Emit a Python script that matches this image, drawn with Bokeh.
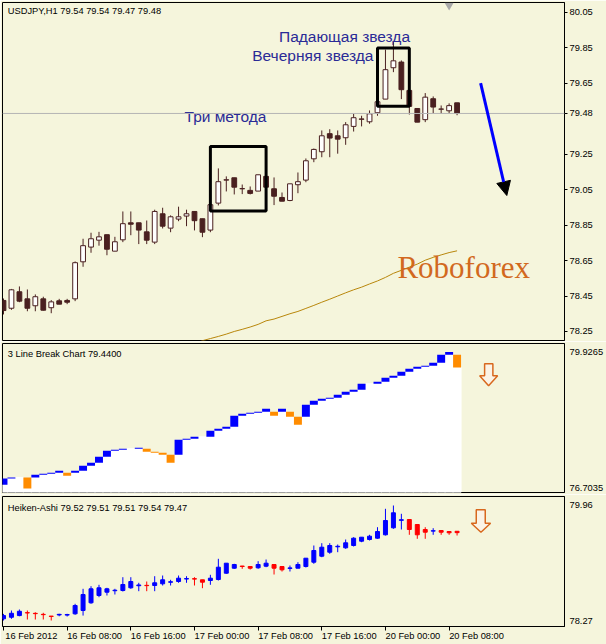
from bokeh.plotting import figure
from bokeh.layouts import column
from bokeh.models import (Range1d, FixedTicker, PrintfTickFormatter, Span,
                          Arrow, NormalHead, LinearAxis)
from bokeh.embed import file_html
from bokeh.resources import INLINE
from bokeh.core.properties import value

BG = "#F5F5DC"
FONT = "Liberation Sans"
CANDLE = "#4A2020"

# ---------------- data: USDJPY H1 candles ----------------
bars = list(range(58))
o = [78.425, 78.381, 78.474, 78.434, 78.395, 78.434, 78.384, 78.423, 78.425, 78.434,
     78.643, 78.726, 78.765, 78.796, 78.703, 78.767, 78.863, 78.863, 78.812, 78.754,
     78.914, 78.833, 78.884, 78.901, 78.927, 78.886, 78.822, 78.974, 79.104, 79.117,
     79.055, 79.046, 79.042, 79.125, 79.055, 79.006, 78.989, 79.078, 79.104, 79.224,
     79.264, 79.366, 79.354, 79.343, 79.407, 79.447, 79.433, 79.484, 79.561, 79.738,
     79.770, 79.610, 79.508, 79.445, 79.563, 79.504, 79.495, 79.54]
h = [78.436, 78.490, 78.504, 78.487, 78.459, 78.446, 78.427, 78.434, 78.434, 78.645,
     78.773, 78.807, 78.812, 78.796, 78.784, 78.927, 78.927, 78.863, 78.876, 78.937,
     78.948, 78.905, 78.954, 78.937, 78.927, 78.886, 78.965, 79.170, 79.125, 79.117,
     79.079, 79.068, 79.134, 79.125, 79.119, 79.034, 79.083, 79.147, 79.226, 79.282,
     79.384, 79.391, 79.384, 79.431, 79.478, 79.467, 79.497, 79.546, 79.840, 79.882,
     79.779, 79.610, 79.508, 79.595, 79.576, 79.525, 79.537, 79.54]
l = [78.346, 78.372, 78.415, 78.364, 78.364, 78.368, 78.353, 78.404, 78.404, 78.421,
     78.615, 78.694, 78.734, 78.680, 78.703, 78.754, 78.793, 78.743, 78.743, 78.743,
     78.831, 78.810, 78.872, 78.844, 78.820, 78.782, 78.810, 78.961, 79.040, 79.023,
     79.025, 79.023, 79.042, 79.064, 78.963, 78.985, 78.985, 79.030, 79.092, 79.205,
     79.233, 79.233, 79.253, 79.303, 79.378, 79.407, 79.422, 79.467, 79.561, 79.713,
     79.561, 79.474, 79.431, 79.431, 79.482, 79.478, 79.482, 79.47]
c = [78.368, 78.485, 78.421, 78.381, 78.446, 78.370, 78.417, 78.404, 78.415, 78.638,
     78.734, 78.773, 78.784, 78.714, 78.756, 78.858, 78.855, 78.822, 78.765, 78.927,
     78.844, 78.897, 78.897, 78.914, 78.875, 78.810, 78.965, 79.095, 79.106, 79.064,
     79.056, 79.029, 79.134, 79.064, 79.013, 78.985, 79.083, 79.095, 79.213, 79.277,
     79.354, 79.341, 79.335, 79.416, 79.456, 79.449, 79.478, 79.546, 79.727, 79.777,
     79.614, 79.520, 79.431, 79.572, 79.516, 79.505, 79.524, 79.48]

# moving average (visible part, bars 24..57)
ma_bars = list(range(24, 58))
ma = [78.180, 78.198, 78.210, 78.222, 78.235, 78.250, 78.262, 78.275, 78.290, 78.310,
      78.320, 78.335, 78.350, 78.363, 78.380, 78.397, 78.415, 78.432, 78.450, 78.468,
      78.485, 78.500, 78.518, 78.535, 78.555, 78.578, 78.595, 78.613, 78.630, 78.652,
      78.668, 78.682, 78.695, 78.705]

price_ticks = [78.25, 78.45, 78.65, 78.85, 79.05, 79.25, 79.48, 79.65, 79.85, 80.05]
last_price = 79.48

# ---------------- data: 3 Line Break ----------------
nan = float("nan")
lb_top = [77.007, 77.029, nan, 77.029, 77.086, 77.108, 77.130, 77.173, 77.130, 77.173,
          77.281, 77.346, 77.476, 77.606, 77.627, 77.649, nan, 77.670, 77.649, 77.584,
          77.562, 77.519, 77.843, 77.865, 77.908, nan, 78.038, 78.081, 78.125, 78.363,
          78.406, 78.428, 78.449, 78.514, 78.449, 78.514, 78.449, 78.341, 78.601, 78.687,
          78.730, 78.752, 78.817, 78.882, 78.925, 79.055, nan, 79.098, 79.185, 79.228,
          79.314, 79.379, 79.423, 79.444, 79.509, 79.682, 79.740, 79.682]
lb_bot = [76.870, 77.007, nan, 76.791, 77.029, 77.086, 77.108, 77.130, 77.065, 77.130,
          77.173, 77.281, 77.346, 77.476, 77.606, 77.627, nan, 77.649, 77.584, 77.562,
          77.519, 77.346, 77.519, 77.843, 77.865, nan, 77.908, 78.038, 78.081, 78.125,
          78.363, 78.406, 78.428, 78.449, 78.363, 78.449, 78.341, 78.168, 78.341, 78.601,
          78.687, 78.730, 78.752, 78.817, 78.882, 78.925, nan, 79.055, 79.098, 79.185,
          79.228, 79.314, 79.379, 79.423, 79.444, 79.509, 79.682, 79.408]
lb_up = [1, 1, 0, 0, 1, 1, 1, 1, 0, 1, 1, 1, 1, 1, 1, 1, 0, 1, 0, 0,
         0, 0, 1, 1, 1, 0, 1, 1, 1, 1, 1, 1, 1, 1, 0, 1, 0, 0, 1, 1,
         1, 1, 1, 1, 1, 1, 0, 1, 1, 1, 1, 1, 1, 1, 1, 1, 1, 0]
lb_min, lb_max = 76.7035, 79.9265

# ---------------- data: Heiken-Ashi ----------------
ha_o = [78.370, 78.390, 78.412, 78.450, 78.441, 78.428, 78.405, 78.420, 78.418, 78.435,
        78.478, 78.578, 78.673, 78.716, 78.735, 78.738, 78.773, 78.800, 78.805, 78.803,
        78.825, 78.845, 78.855, 78.887, 78.892, 78.877, 78.868, 78.881, 78.963, 79.028,
        79.056, 79.050, 79.033, 79.054, 79.076, 79.050, 79.025, 79.028, 79.050, 79.106,
        79.184, 79.236, 79.306, 79.293, 79.323, 79.379, 79.401, 79.418, 79.462, 79.553,
        79.650, 79.661, 79.596, 79.531, 79.510, 79.518, 79.505, 79.508]
ha_h = [78.434, 78.478, 78.491, 78.478, 78.455, 78.448, 78.405, 78.435, 78.435, 78.565,
        78.760, 78.794, 78.812, 78.773, 78.760, 78.911, 78.911, 78.838, 78.855, 78.924,
        78.933, 78.877, 78.933, 78.924, 78.911, 78.877, 78.942, 79.150, 79.093, 79.085,
        79.058, 79.050, 79.119, 79.141, 79.076, 79.050, 79.063, 79.106, 79.158, 79.323,
        79.353, 79.353, 79.336, 79.401, 79.431, 79.431, 79.462, 79.561, 79.800, 79.843,
        79.735, 79.661, 79.596, 79.561, 79.548, 79.518, 79.505, 79.508]
ha_l = [78.348, 78.370, 78.403, 78.361, 78.361, 78.361, 78.348, 78.403, 78.400, 78.422,
        78.412, 78.565, 78.651, 78.673, 78.686, 78.725, 78.760, 78.729, 78.729, 78.729,
        78.803, 78.803, 78.838, 78.838, 78.803, 78.768, 78.812, 78.868, 78.955, 79.020,
        79.020, 79.011, 79.020, 79.041, 78.946, 78.985, 78.985, 79.028, 79.037, 79.085,
        79.171, 79.215, 79.236, 79.280, 79.310, 79.366, 79.388, 79.410, 79.453, 79.540,
        79.531, 79.462, 79.410, 79.410, 79.462, 79.462, 79.462, 79.453]
ha_c = [78.412, 78.442, 78.468, 78.446, 78.437, 78.424, 78.401, 78.428, 78.426, 78.543,
        78.686, 78.760, 78.773, 78.760, 78.742, 78.816, 78.855, 78.810, 78.801, 78.838,
        78.877, 78.852, 78.898, 78.893, 78.886, 78.846, 78.898, 79.041, 79.093, 79.076,
        79.050, 79.028, 79.076, 79.093, 79.028, 79.007, 79.032, 79.076, 79.158, 79.258,
        79.301, 79.323, 79.313, 79.358, 79.418, 79.431, 79.444, 79.505, 79.648, 79.748,
        79.658, 79.531, 79.462, 79.496, 79.515, 79.496, 79.488, 79.490]
ha_min, ha_max = 78.27, 79.96

time_ticks = [0, 8, 16, 24, 32, 40, 48, 56]
time_labels = ["16 Feb 2012", "16 Feb 08:00", "16 Feb 16:00", "17 Feb 00:00",
               "17 Feb 08:00", "17 Feb 16:00", "20 Feb 00:00", "20 Feb 08:00"]

# ---------------- figures ----------------
xr = Range1d(-0.125, 70.5)


def panel(height, y0, y1, top, bottom, xaxis):
    p = figure(width=606, height=height, x_range=xr, y_range=Range1d(y0, y1),
               output_backend="svg", toolbar_location=None,
               x_axis_location="below" if xaxis else None, y_axis_location="right",
               min_border_left=2, min_border_right=39, min_border_top=top,
               min_border_bottom=bottom, background_fill_color=BG, border_fill_color=BG,
               outline_line_color="black", outline_line_width=1)
    p.grid.visible = False
    ax = p.yaxis[0]
    ax.axis_line_color = "black"
    ax.major_tick_out = 3
    ax.major_tick_in = 0
    ax.minor_tick_line_color = None
    ax.major_label_standoff = 2
    ax.major_label_text_font = FONT
    ax.major_label_text_font_size = "9.3px"
    ax.major_label_text_color = "black"
    return p


# --- main price panel ---
p1 = panel(341, 78.199, 80.106, 2, 1, False)
p1.yaxis.ticker = FixedTicker(ticks=price_ticks)
p1.yaxis.formatter = PrintfTickFormatter(format="%.2f")

p1.add_layout(Span(location=last_price, dimension="width", line_color="#B4B4B4", line_width=1))
p1.line(ma_bars, ma, line_color="#B8860B", line_width=1)

up = [cc >= oo for oo, cc in zip(o, c)]
p1.segment(x0=bars, y0=h, x1=bars, y1=l, line_color=CANDLE, line_width=1)
p1.vbar(x=bars, width=0.6, top=[max(a, b) for a, b in zip(o, c)],
        bottom=[min(a, b) for a, b in zip(o, c)],
        fill_color=["white" if u else CANDLE for u in up], line_color=CANDLE, line_width=1)

# annotation boxes
p1.quad(left=[26, 47], right=[33, 51], top=[79.294, 79.849], bottom=[78.929, 79.520],
        fill_color=None, line_color="black", line_width=3)

txt = dict(text_font=value(FONT), text_font_size="15.5px", text_color="#2A2A96",
           text_baseline="alphabetic", text_align="left")
p1.text(x=[34.625], y=[79.914], text=["Падающая звезда"], **txt)
p1.text(x=[31.25], y=[79.806], text=["Вечерняя звезда"], **txt)
p1.text(x=[22.75], y=[79.465], text=["Три метода"], **txt)
p1.text(x=[49.5], y=[78.612], text=["Roboforex"], text_font=value("Liberation Serif"),
        text_font_size="31px", text_color="#D2691E", text_baseline="alphabetic")
p1.text(x=[0.54], y=[80.057], text=["USDJPY,H1  79.54 79.54 79.47 79.48"],
        text_font=value(FONT), text_font_size="9.3px", text_color="black",
        text_baseline="middle")

p1.add_layout(Arrow(end=NormalHead(size=14, fill_color="black", line_color="black"),
                    x_start=59.96, y_start=79.651, x_end=63.25, y_end=79.017,
                    line_color="#0000FF", line_width=3))
p1.scatter(x=[56], y=[80.09], marker="inverted_triangle", size=9,
           fill_color="#A8A8A8", line_color=None)

# --- 3 line break panel ---
p2 = panel(153, lb_min, lb_max, 2, 2, False)
p2.yaxis.ticker = FixedTicker(ticks=[76.805, 79.747])
p2.yaxis.major_label_overrides = {76.805: "76.7035", 79.747: "79.9265"}
p2.yaxis.major_tick_line_color = None

floor = []
for i in range(len(lb_bot)):
    v = lb_bot[i]
    if v != v:
        v = lb_top[i - 1]
    floor.append(v)
p2.vbar(x=bars, width=1.0, top=floor, bottom=lb_min - 1, fill_color="white",
        line_color="white", line_width=1)
p2.quad(left=[b - 0.5 for b in bars], right=[b + 0.5 for b in bars], top=lb_top,
        bottom=lb_bot, fill_color=["#0000FF" if u else "#FF8C00" for u in lb_up],
        line_color=None)
p2.patch(x=[60.46, 61.5, 61.5, 62.1, 60.96, 59.84, 60.46, 60.46],
         y=[79.487, 79.487, 79.228, 79.228, 79.012, 79.228, 79.228, 79.487],
         fill_color="#FBF3E6", line_color="#D8681E", line_width=1.5)
p2.text(x=[0.54], y=[79.689], text=["3 Line Break Chart 79.4400"], text_font=value(FONT),
        text_font_size="9.3px", text_color="black", text_baseline="middle")

# --- Heiken-Ashi panel ---
p3 = panel(150, ha_min, ha_max, 2, 18, True)
p3.yaxis.ticker = FixedTicker(ticks=[78.348, 79.856])
p3.yaxis.major_label_overrides = {78.348: "78.27", 79.856: "79.96"}
p3.yaxis.major_tick_line_color = None

# axis carrying the tick marks (labels blank)
xa = p3.xaxis[0]
xa.ticker = FixedTicker(ticks=time_ticks)
xa.major_label_overrides = {t: "" for t in time_ticks}
xa.major_label_text_font_size = "1px"
xa.axis_line_color = "black"
xa.major_tick_out = 4
xa.major_tick_in = 0
xa.minor_tick_line_color = None
xa.major_label_standoff = 0

# axis carrying the date labels, left-aligned on the ticks
shift = [3.5] + [3.45] * (len(time_ticks) - 1)
label_pos = [t + s for t, s in zip(time_ticks, shift)]
xb = LinearAxis(ticker=FixedTicker(ticks=label_pos),
                major_label_overrides={p: s for p, s in zip(label_pos, time_labels)},
                axis_line_color=None, major_tick_line_color=None, minor_tick_line_color=None,
                major_tick_out=0, major_tick_in=0, major_label_standoff=0,
                major_label_text_font=FONT, major_label_text_font_size="9.3px",
                major_label_text_color="black")
p3.add_layout(xb, "below")

ha_col = ["#0000FF" if cc >= oo else "#FF0000" for oo, cc in zip(ha_o, ha_c)]
p3.segment(x0=bars, y0=ha_h, x1=bars, y1=ha_l, line_color=ha_col, line_width=1)
p3.vbar(x=bars, width=0.5, top=[max(a, b) for a, b in zip(ha_o, ha_c)],
        bottom=[min(a, b) for a, b in zip(ha_o, ha_c)], fill_color=ha_col,
        line_color=ha_col, line_width=1)
p3.patch(x=[59.41, 60.54, 60.54, 61.21, 60.0, 58.79, 59.41, 59.41],
         y=[79.787, 79.787, 79.613, 79.613, 79.496, 79.613, 79.613, 79.787],
         fill_color="#FBF3E6", line_color="#D8681E", line_width=1.5)
p3.text(x=[0.54], y=[79.817], text=["Heiken-Ashi 79.52 79.51 79.51 79.54 79.47"],
        text_font=value(FONT), text_font_size="9.3px", text_color="black",
        text_baseline="middle")

layout = column(p1, p2, p3)
open("out.html", "w").write(file_html(layout, INLINE))
